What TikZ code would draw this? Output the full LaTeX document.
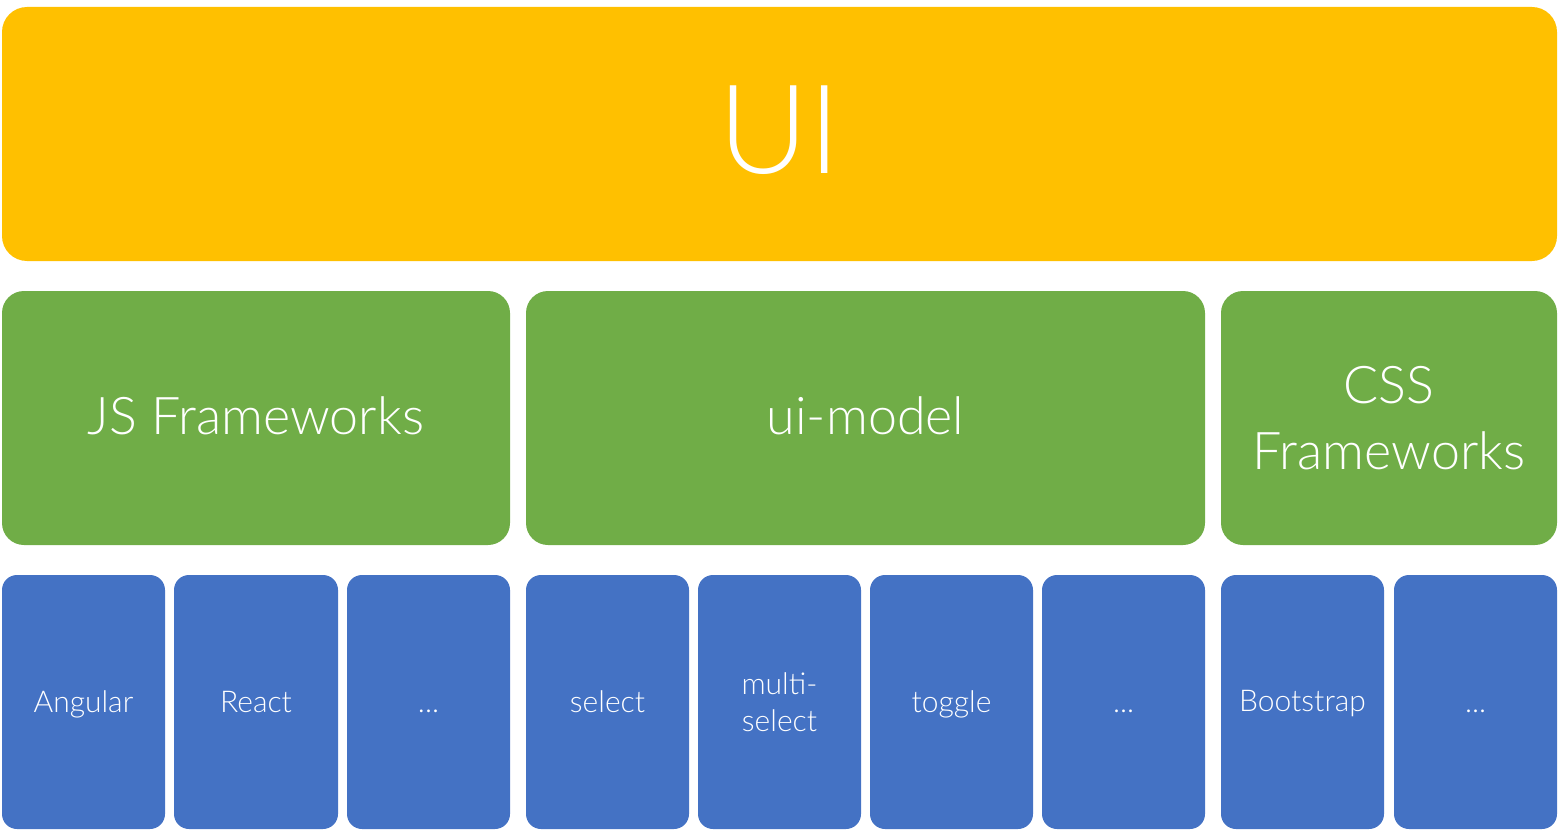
\documentclass[tikz,border=0pt]{standalone}
\usepackage{fontspec}
\setmainfont{Lato Light}
\begin{document}
\begin{tikzpicture}[x=1pt,y=-1pt,
  base/.style={inner sep=0pt,text=white,align=center},
  ybox/.style={base,fill=uiyellow,rounded corners=25pt},
  gbox/.style={base,fill=uigreen,rounded corners=22pt},
  bbox/.style={base,fill=uiblue,rounded corners=15pt},
  gtext/.style={base,font=\fontsize{52}{66}\selectfont},
  btext/.style={base,font=\fontsize{30}{37}\selectfont}]
\definecolor{uiyellow}{HTML}{FFC000}
\definecolor{uigreen}{HTML}{70AD47}
\definecolor{uiblue}{HTML}{4472C4}
\useasboundingbox (0,0) rectangle (1566,832);
% top
\path[ybox] (2,7) rectangle (1557,261);
\node[base,anchor=base,font=\fontsize{124}{124}\selectfont] (ui) at (779.5,173) {UI};
% green
\path[gbox] (2,291) rectangle (510,545);
\node[gtext,anchor=base] (js) at (256,434) {JS Frameworks};
\path[gbox] (526,291) rectangle (1205,545);
\node[gtext,anchor=base] (model) at (865.5,434) {ui-model};
\path[gbox] (1221,291) rectangle (1557,545);
\node[gtext] (css) at (1389,418) {CSS\\Frameworks};
% blue
\path[bbox] (2,575) rectangle (165,829);
\node[btext,anchor=base] (b1) at (83.5,712) {Angular};
\path[bbox] (174,575) rectangle (338,829);
\node[btext,anchor=base] (b2) at (256,712) {React};
\path[bbox] (347,575) rectangle (510,829);
\node[btext,anchor=base] (b3) at (428.5,712) {...};
\path[bbox] (526,575) rectangle (689,829);
\node[btext,anchor=base] (b4) at (607.5,712) {select};
\path[bbox] (698,575) rectangle (861,829);
\node[btext] (b5) at (779.5,702) {multi-\\select};
\path[bbox] (870,575) rectangle (1033,829);
\node[btext,anchor=base] (b6) at (951.5,712) {toggle};
\path[bbox] (1042,575) rectangle (1205,829);
\node[btext,anchor=base] (b7) at (1123.5,712) {...};
\path[bbox] (1221,575) rectangle (1384,829);
\node[btext,anchor=base] (b8) at (1302.5,711) {Bootstrap};
\path[bbox] (1394,575) rectangle (1557,829);
\node[btext,anchor=base] (b9) at (1475.5,712) {...};
\end{tikzpicture}
\end{document}
